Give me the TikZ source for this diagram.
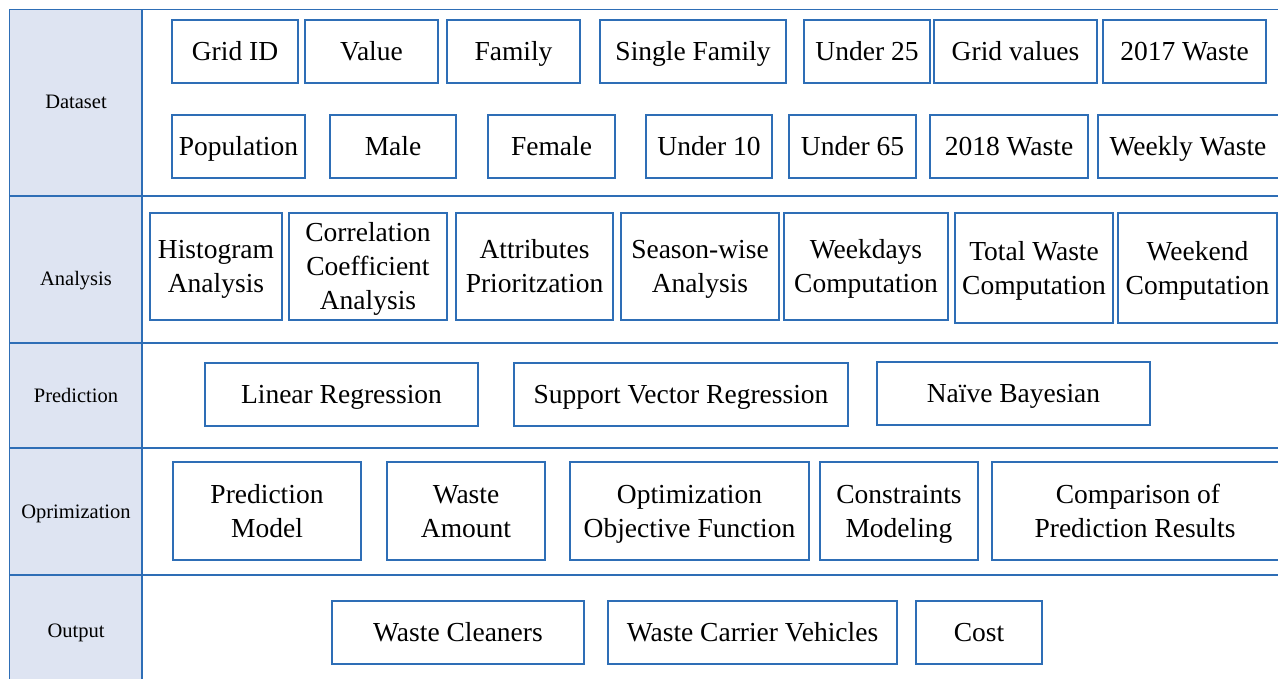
\documentclass[tikz,border=0pt]{standalone}
\usepackage{fontspec}
\setmainfont{Liberation Serif}
\definecolor{frameblue}{RGB}{46,110,182}
\definecolor{cellfill}{RGB}{222,228,242}
\newcommand\bx[7][]{\node[bbox,#1, minimum width={#5-#3}, minimum height={#6-#4}] (#2) at ({(#3+#5)/2},{(#4+#6)/2}) {#7};}
\begin{document}
\begin{tikzpicture}[x=1pt,y=-1pt,
  bbox/.style={draw=frameblue, line width=1.1pt, fill=white, inner sep=0pt, align=center,
    font=\fontsize{27.5}{34}\selectfont, text=black, text height=18.2pt, text depth=0pt},
  two/.style={text height=52.2pt},
  three/.style={text height=86.2pt},
  cell/.style={draw=frameblue, line width=1.2pt, fill=cellfill},
  part/.style={draw=frameblue, line width=1.2pt, fill=white},
  lab/.style={font=\fontsize{20.5}{24}\selectfont, text=black, inner sep=0pt, text height=13.6pt, text depth=0pt}]
\useasboundingbox (0,0) rectangle (1278,679);
\clip (0,0) rectangle (1278,679);
% row frames
\draw[part] (142,9.5) rectangle (1290,196);
\draw[part] (142,196) rectangle (1290,343);
\draw[part] (142,343) rectangle (1290,448);
\draw[part] (142,448) rectangle (1290,575);
\draw[part] (142,575) rectangle (1290,700);
\draw[cell] (9.5,9.5) rectangle (142,196);
\draw[cell] (9.5,196) rectangle (142,343);
\draw[cell] (9.5,343) rectangle (142,448);
\draw[cell] (9.5,448) rectangle (142,575);
\draw[cell] (9.5,575) rectangle (142,700);
\node[lab] (lds) at (76,102) {Dataset};
\node[lab] (lan) at (76,279) {Analysis};
\node[lab] (lpr) at (76,396) {Prediction};
\node[lab] (lop) at (76,512) {Oprimization};
\node[lab] (lou) at (76,631) {Output};
% Dataset row 1
\bx{d1}{172}{20}{298}{83}{Grid ID}
\bx{d2}{305}{20}{438}{83}{Value}
\bx{d3}{447}{20}{580}{83}{Family}
\bx{d4}{600}{20}{786}{83}{Single Family}
\bx{d5}{804}{20}{930}{83}{Under 25}
\bx{d6}{934}{20}{1097}{83}{Grid values}
\bx{d7}{1103}{20}{1266}{83}{2017 Waste}
% Dataset row 2
\bx{e1}{172}{115}{305}{178}{Population}
\bx{e2}{330}{115}{456}{178}{Male}
\bx{e3}{488}{115}{615}{178}{Female}
\bx{e4}{646}{115}{772}{178}{Under 10}
\bx{e5}{789}{115}{916}{178}{Under 65}
\bx{e6}{930}{115}{1088}{178}{2018 Waste}
\bx{e7}{1098}{115}{1286}{178}{Weekly Waste\hspace*{8pt}}
% Analysis
\bx[two]{a1}{150}{213}{282}{320}{Histogram\\Analysis}
\bx[three]{a2}{289}{213}{447}{320}{Correlation\\Coefficient\\Analysis}
\bx[two]{a3}{456}{213}{613}{320}{Attributes\\Prioritzation}
\bx[two]{a4}{621}{213}{779}{320}{Season-wise\\Analysis}
\bx[two]{a5}{784}{213}{948}{320}{Weekdays\\Computation}
\bx[two]{a6}{955}{213}{1113}{323}{Total Waste\\Computation}
\bx[two]{a7}{1118}{213}{1277}{323}{Weekend\\Computation}
% Prediction
\bx{p1}{205}{363}{478}{426}{Linear Regression}
\bx{p2}{514}{363}{848}{426}{Support Vector Regression}
\bx{p3}{877}{362}{1150}{425}{Naïve Bayesian}
% Optimization
\bx[two]{o1}{173}{462}{361}{560}{Prediction\\Model}
\bx[two]{o2}{387}{462}{545}{560}{Waste\\Amount}
\bx[two]{o3}{570}{462}{809}{560}{Optimization\\Objective Function}
\bx[two]{o4}{820}{462}{978}{560}{Constraints\\Modeling}
\bx[two]{o5}{992}{462}{1284}{560}{Comparison of\\Prediction Results\hspace*{6pt}}
% Output
\bx{u1}{332}{601}{584}{664}{Waste Cleaners}
\bx{u2}{608}{601}{897}{664}{Waste Carrier Vehicles}
\bx{u3}{916}{601}{1042}{664}{Cost}
\end{tikzpicture}
\end{document}
